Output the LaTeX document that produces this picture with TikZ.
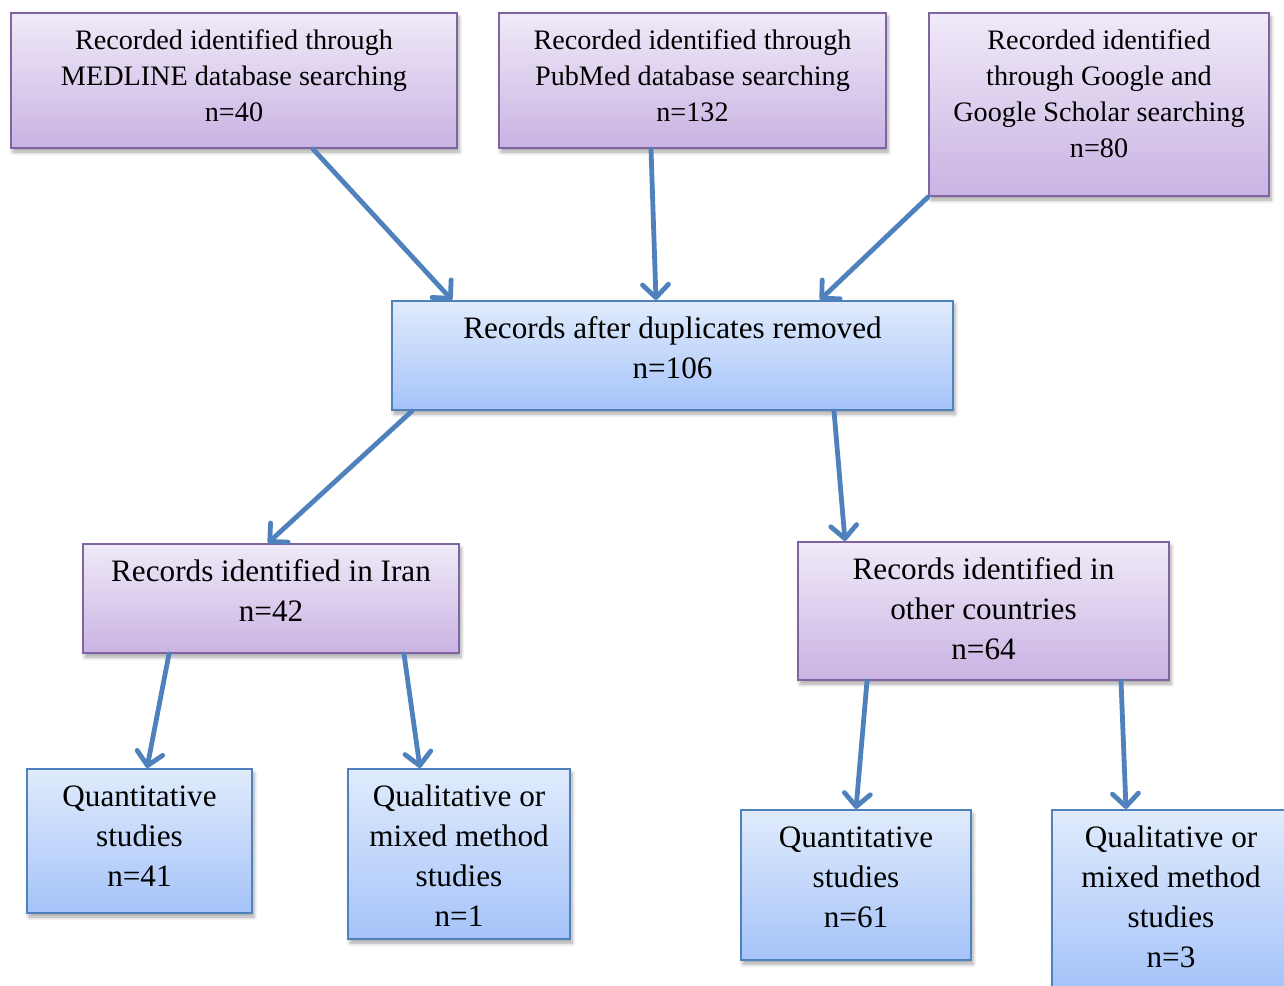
\documentclass[tikz,border=0pt]{standalone}
\usepackage{fontspec}
\setmainfont{Liberation Serif}
\usetikzlibrary{arrows.meta,calc,shadows.blur}

\definecolor{purpleedge}{HTML}{8064A2}
\definecolor{purpletop}{HTML}{F0EAF8}
\definecolor{purplebot}{HTML}{C9B3E3}
\definecolor{blueedge}{HTML}{4F81BD}
\definecolor{bluetop}{HTML}{E0EBFC}
\definecolor{bluebot}{HTML}{A5C3F9}
\definecolor{arrowblue}{HTML}{4F81BD}

\tikzset{
  boxbase/.style={rectangle, inner sep=0pt, line width=1pt,
    blur shadow={shadow xshift=1pt, shadow yshift=-2pt, shadow blur steps=6, shadow opacity=35}},
  purplebox/.style={boxbase, draw=purpleedge, top color=purpletop, bottom color=purplebot},
  bluebox/.style={boxbase, draw=blueedge, top color=bluetop, bottom color=bluebot},
  smalltext/.style={anchor=north, inner sep=0pt, align=center, yshift=-6pt,
    font=\fontsize{14.1}{18}\selectfont},
  bigtext/.style={anchor=north, inner sep=0pt, align=center, yshift=-5.2pt,
    font=\fontsize{15.6}{20}\selectfont},
  conn/.style={draw=arrowblue, line width=2.4pt, line cap=round,
    -{Straight Barb[length=6.5pt,width=13pt,line cap=round,line join=round]}}
}

\begin{document}
\begin{tikzpicture}[x=0.5pt,y=-0.5pt]
\useasboundingbox (0,0) rectangle (1284,985);

% search sources
\node[purplebox, minimum width=223pt, minimum height=67.5pt] (medline) at (234,80.5) {};
\node[smalltext] (tmedline) at (medline.north) {\strut Recorded identified through\\MEDLINE database searching\\n=40};

\node[purplebox, minimum width=193.5pt, minimum height=67.5pt] (pubmed) at (692.5,80.5) {};
\node[smalltext] (tpubmed) at (pubmed.north) {\strut Recorded identified through\\PubMed database searching\\n=132};

\node[purplebox, minimum width=170pt, minimum height=91.5pt] (google) at (1099,104.5) {};
\node[smalltext] (tgoogle) at (google.north) {\strut Recorded identified\\through Google and\\Google Scholar searching\\n=80};

% merged records
\node[bluebox, minimum width=280.5pt, minimum height=54.5pt] (dedup) at (672.5,355.5) {};
\node[bigtext] (tdedup) at (dedup.north) {\strut Records after duplicates removed\\n=106};

% split by country
\node[purplebox, minimum width=188pt, minimum height=54.5pt] (iran) at (271,598.5) {};
\node[bigtext] (tiran) at (iran.north) {\strut Records identified in Iran\\n=42};

\node[purplebox, minimum width=185.5pt, minimum height=69pt] (other) at (983.5,611) {};
\node[bigtext] (tother) at (other.north) {\strut Records identified in\\other countries\\n=64};

% study types
\node[bluebox, minimum width=112.5pt, minimum height=72pt] (quanA) at (139.5,841) {};
\node[bigtext] (tquanA) at (quanA.north) {\strut Quantitative\\studies\\n=41};

\node[bluebox, minimum width=111pt, minimum height=85pt] (qualA) at (459,854) {};
\node[bigtext] (tqualA) at (qualA.north) {\strut Qualitative or\\mixed method\\studies\\n=1};

\node[bluebox, minimum width=115pt, minimum height=75pt] (quanB) at (856,885) {};
\node[bigtext] (tquanB) at (quanB.north) {\strut Quantitative\\studies\\n=61};

\node[bluebox, minimum width=119pt, minimum height=90pt] (qualB) at (1171,900) {};
\node[bigtext] (tqualB) at (qualB.north) {\strut Qualitative or\\mixed method\\studies\\n=3};

% connectors
\draw[conn] ($(medline.south)+(79,0)$) -- ($(dedup.north)+(-220.5,0)$);
\draw[conn] ($(pubmed.south)+(-41.5,0)$) -- ($(dedup.north)+(-16.5,0)$);
\draw[conn] (google.south west) -- ($(dedup.north)+(147.5,0)$);
\draw[conn] ($(dedup.south)+(-260.5,0)$) -- ($(iran.north)+(-3,0)$);
\draw[conn] ($(dedup.south)+(161.5,0)$) -- ($(other.north)+(-138.5,0)$);
\draw[conn] ($(iran.south)+(-102,0)$) -- ($(quanA.north)+(7.5,0)$);
\draw[conn] ($(iran.south)+(133,0)$) -- ($(qualA.north)+(-39,0)$);
\draw[conn] ($(other.south)+(-116.5,0)$) -- (quanB.north);
\draw[conn] ($(other.south)+(137.5,0)$) -- ($(qualB.north)+(-45,0)$);
\end{tikzpicture}
\end{document}
